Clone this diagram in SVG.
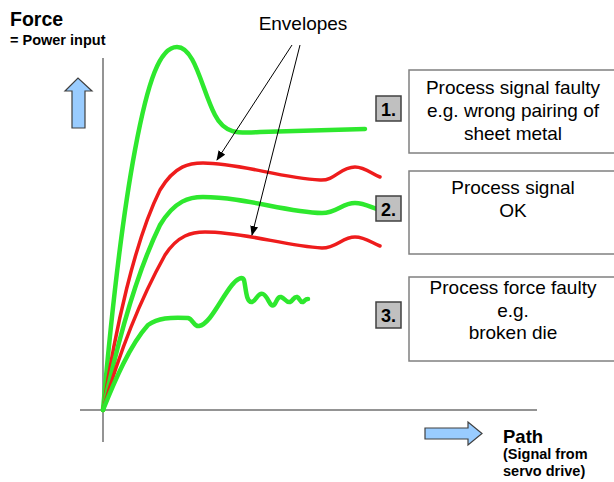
<svg xmlns="http://www.w3.org/2000/svg" width="614" height="482" viewBox="0 0 614 482">
<defs>
<style>
.t{font-family:"Liberation Sans",Arial,sans-serif;fill:#000}
.bt{font-size:19px;text-anchor:middle}
.box{fill:#fff;stroke:#808080;stroke-width:1.5}
.badge{fill:#c0c0c0;stroke:#404040;stroke-width:1.5}
.g{fill:none;stroke:#2ee82e;stroke-width:4.5;stroke-linecap:round;stroke-linejoin:round}
.r{fill:none;stroke:#ee1c1c;stroke-width:3.5;stroke-linecap:round}
.ax{stroke:#707070;stroke-width:1.5}
.blue{fill:#99ccff;stroke:#404040;stroke-width:1.2}
</style>
<marker id="ah" markerWidth="10" markerHeight="8" refX="9" refY="4" orient="auto" markerUnits="userSpaceOnUse">
<path d="M0,0 L10,4 L0,8 z" fill="#000"/>
</marker>
</defs>
<rect width="614" height="482" fill="#fff"/>
<g id="axes">
<line class="ax" x1="103" y1="58" x2="103" y2="442"/>
<line class="ax" x1="80" y1="410" x2="537" y2="410"/>
<path class="blue" d="M65,91 L78,78 L92,91 L85,91 L85,128 L72,128 L72,91 Z"/>
<path class="blue" d="M425,428 L468,428 L468,422 L482,433.5 L468,445 L468,439 L425,439 Z"/>
<text class="t" x="10" y="26" font-size="19.5" font-weight="bold">Force</text>
<text class="t" x="10" y="45" font-size="14.5" font-weight="bold">= Power input</text>
<text class="t" x="503" y="443" font-size="18.5" font-weight="bold">Path</text>
<text class="t" x="503" y="459" font-size="14.5" font-weight="bold">(Signal from</text>
<text class="t" x="503" y="476" font-size="14.5" font-weight="bold">servo drive)</text>
</g>
<g id="curves">
<path class="g" d="M103,410 C110,330 120,230 135,150 C148,80 160,47 177,47 C195,47 202,90 215,115 C225,135 240,133 260,132 L365,129"/>
<path class="r" d="M103,410 C115,330 135,240 160,190 C175,165 190,163 203,163 C240,163 280,178 320,180 C335,181 340,167 355,167 C365,167 372,174 380,177"/>
<path class="g" d="M103,410 C118,340 138,270 160,225 C175,200 190,197 203,197 C245,197 285,212 322,213 C337,213 342,203 355,203 C365,203 372,208 380,210"/>
<path class="r" d="M103,410 C120,350 140,300 165,255 C178,235 192,232 205,232 C245,232 285,246 322,248 C337,248 342,237 355,237 C365,237 372,243 380,246"/>
<path class="g" d="M103,410 C115,380 130,345 148,325 C158,318 170,317 188,318 C193,319 194,327 199,326 C210,324 220,300 232,285 C237,279 242,276 244,280 C246,288 246,303 252,302 C256,301 258,292 263,294 C268,296 270,308 274,305 C277,302 277,296 281,297 C285,298 286,303 290,302 C293,301 294,296 297,297 C300,298 300,303 303,302 C305,301 305,299 308,299"/>
</g>
<g id="envelopes">
<text class="t" x="303" y="30" font-size="19" text-anchor="middle">Envelopes</text>
</g>
<g id="connectors">
<line x1="292" y1="45" x2="217" y2="160" stroke="#000" stroke-width="1" marker-end="url(#ah)"/>
<line x1="300" y1="45" x2="252" y2="235" stroke="#000" stroke-width="1" marker-end="url(#ah)"/>
</g>
<g id="box1">
<rect class="box" x="409" y="70" width="210" height="83"/>
<text class="t bt" x="513" y="94">Process signal faulty</text>
<text class="t bt" x="513" y="117">e.g. wrong pairing of</text>
<text class="t bt" x="513" y="140">sheet metal</text>
<rect class="badge" x="376" y="96" width="25" height="25"/>
<text class="t" x="388.5" y="115.5" font-size="18" font-weight="bold" text-anchor="middle">1.</text>
</g>
<g id="box2">
<rect class="box" x="409" y="171" width="210" height="83"/>
<text class="t bt" x="513" y="194">Process signal</text>
<text class="t bt" x="513" y="217">OK</text>
<rect class="badge" x="376" y="196" width="25" height="25"/>
<text class="t" x="388.5" y="215.5" font-size="18" font-weight="bold" text-anchor="middle">2.</text>
</g>
<g id="box3">
<rect class="box" x="409" y="277" width="210" height="84"/>
<text class="t bt" x="513" y="294">Process force faulty</text>
<text class="t bt" x="513" y="317">e.g.</text>
<text class="t bt" x="513" y="339">broken die</text>
<rect class="badge" x="376" y="302" width="25" height="26"/>
<text class="t" x="388.5" y="321.5" font-size="18" font-weight="bold" text-anchor="middle">3.</text>
</g>
</svg>
